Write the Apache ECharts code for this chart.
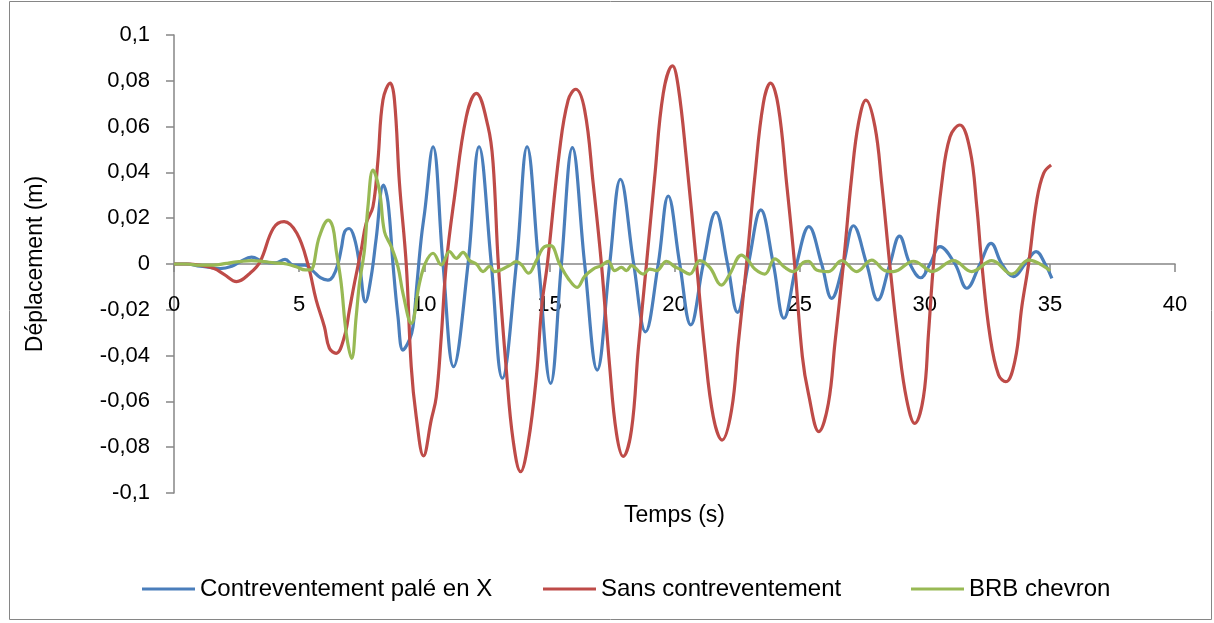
<!DOCTYPE html>
<html>
<head>
<meta charset="utf-8">
<script src="https://cdn.jsdelivr.net/npm/echarts@6/dist/echarts.min.js"></script>
<style>
html,body{margin:0;padding:0;background:#fff;}
#chart{width:1214px;height:623px;}
</style>
</head>
<body>
<div id="chart"></div>
<script>
// ---- DATA ----
const seriesNames = ['Contreventement palé en X', 'Sans contreventement', 'BRB chevron'];
const xTicks = [0, 5, 10, 15, 20, 25, 30, 35, 40];
const yTicks = [-0.1, -0.08, -0.06, -0.04, -0.02, 0, 0.02, 0.04, 0.06, 0.08, 0.1];

const blueT = [0, 0.5, 1.04, 1.45, 1.84, 2.31, 2.64, 3.1, 3.57, 4.04, 4.44, 4.77, 5.24, 5.55, 5.85, 6.15, 6.35, 6.55, 6.7, 6.82, 7.0, 7.21, 7.41, 7.65, 7.88, 8.08, 8.37, 8.55, 8.75, 8.95, 9.15, 9.41, 9.55, 9.71, 9.88, 10.02, 10.35, 10.75, 11.17, 11.75, 12.19, 12.68, 13.12, 13.68, 14.11, 14.57, 15.05, 15.48, 15.92, 16.41, 16.91, 17.41, 17.84, 18.37, 18.84, 19.35, 19.75, 20.21, 20.65, 21.15, 21.65, 22.12, 22.52, 22.95, 23.45, 23.95, 24.37, 24.88, 25.37, 25.88, 26.28, 26.75, 27.15, 27.68, 28.12, 28.61, 28.99, 29.41, 29.84, 30.21, 30.61, 31.21, 31.68, 32.21, 32.65, 33.08, 33.55, 34.01, 34.45, 34.81, 35.08];
const blueV = [0, 0, -0.001, -0.0015, -0.002, -0.001, 0.001, 0.003, 0.001, 0.0005, 0.002, -0.0005, -0.0005, -0.003, -0.006, -0.007, -0.0055, 0, 0.0076, 0.0141, 0.0155, 0.0112, 0, -0.0165, -0.0055, 0.0112, 0.0345, 0.027, 0, -0.023, -0.0376, -0.033, -0.0274, -0.0084, 0.0112, 0.023, 0.0512, 0, -0.0448, 0, 0.0512, 0, -0.0499, 0, 0.0512, 0, -0.0521, 0, 0.0508, 0, -0.0463, 0, 0.037, 0, -0.0296, 0, 0.0297, 0, -0.0266, 0, 0.0226, 0, -0.0211, 0, 0.0236, 0, -0.0237, 0, 0.0163, 0, -0.015, 0, 0.0167, 0, -0.0157, 0, 0.0122, 0, -0.006, 0, 0.0076, 0, -0.0106, 0, 0.009, 0, -0.0055, 0, 0.0054, 0, -0.0063];

const redT = [0, 0.6, 1.0, 1.6, 2.0, 2.5, 3.04, 3.44, 3.97, 4.4, 4.91, 5.36, 5.68, 6.01, 6.21, 6.48, 6.81, 7.01, 7.21, 7.48, 7.68, 7.95, 8.15, 8.35, 8.64, 8.81, 9.01, 9.28, 9.48, 9.68, 9.97, 10.28, 10.48, 10.68, 10.88, 11.21, 11.68, 12.08, 12.55, 12.75, 12.96, 13.28, 13.55, 13.85, 14.15, 14.48, 14.7, 14.92, 15.41, 15.75, 16.05, 16.41, 16.75, 17.08, 17.41, 17.68, 17.95, 18.28, 18.55, 18.88, 19.21, 19.55, 19.92, 20.15, 20.48, 20.88, 21.21, 21.55, 21.9, 22.28, 22.55, 22.88, 23.21, 23.55, 23.84, 24.15, 24.48, 24.8, 25.11, 25.35, 25.77, 26.15, 26.41, 26.75, 27.08, 27.35, 27.65, 28.01, 28.28, 28.6, 28.95, 29.28, 29.6, 29.95, 30.15, 30.35, 30.68, 31.01, 31.4, 31.81, 32.08, 32.28, 32.61, 32.95, 33.24, 33.61, 33.88, 34.15, 34.48, 34.75, 35.05];
const redV = [0, 0, -0.0005, -0.002, -0.0045, -0.0077, -0.004, 0.001, 0.0156, 0.0185, 0.0134, -0.0005, -0.0157, -0.0274, -0.0368, -0.039, -0.0317, -0.0201, -0.0084, 0.0061, 0.0178, 0.025, 0.0454, 0.0716, 0.079, 0.0716, 0.0352, 0, -0.0448, -0.0667, -0.0838, -0.0681, -0.058, -0.0317, 0, 0.0294, 0.0643, 0.0745, 0.06, 0.044, 0, -0.0463, -0.0769, -0.0907, -0.0783, -0.0492, -0.018, 0, 0.0498, 0.0716, 0.0763, 0.0672, 0.0352, 0, -0.0448, -0.0739, -0.084, -0.0725, -0.0376, 0, 0.0381, 0.0745, 0.0865, 0.0774, 0.0454, 0, -0.0376, -0.0667, -0.0769, -0.0638, -0.0346, 0, 0.0381, 0.0702, 0.079, 0.0687, 0.0352, 0, -0.0405, -0.0565, -0.0732, -0.0608, -0.0346, 0, 0.0381, 0.0614, 0.0716, 0.06, 0.0352, 0, -0.0346, -0.0594, -0.0696, -0.058, -0.0303, 0, 0.0352, 0.0556, 0.0607, 0.0498, 0.025, 0, -0.0317, -0.0485, -0.0514, -0.0419, -0.0186, 0, 0.028, 0.0396, 0.0432];

const greenT = [0, 0.5, 1.0, 1.6, 2.1, 2.6, 3.1, 3.6, 4.0, 4.5, 4.88, 5.24, 5.45, 5.81, 6.17, 6.35, 6.48, 6.68, 6.88, 7.1, 7.28, 7.41, 7.61, 7.75, 7.95, 8.21, 8.41, 8.68, 8.95, 9.15, 9.48, 9.81, 10.05, 10.35, 10.68, 11.01, 11.28, 11.55, 11.81, 12.08, 12.35, 12.61, 12.81, 13.08, 13.41, 13.68, 13.88, 14.17, 14.48, 14.81, 15.05, 15.41, 15.75, 16.11, 16.41, 16.75, 17.08, 17.35, 17.61, 17.88, 18.08, 18.28, 18.75, 19.01, 19.28, 19.68, 20.01, 20.21, 20.61, 21.01, 21.41, 21.88, 22.21, 22.68, 22.95, 23.21, 23.61, 24.01, 24.41, 24.75, 25.15, 25.35, 25.68, 26.15, 26.68, 27.28, 27.88, 28.41, 28.75, 29.55, 30.08, 30.28, 31.15, 31.88, 32.68, 33.48, 34.15, 35.01];
const greenV = [0, 0, -0.0005, -0.0005, 0.0003, 0.001, 0.0015, 0.001, 0.0005, 0, -0.0012, -0.0026, -0.0026, 0.012, 0.0192, 0.016, 0.006, -0.0084, -0.030, -0.0412, -0.023, -0.0085, 0.006, 0.025, 0.041, 0.032, 0.0141, 0.0076, -0.0012, -0.0128, -0.0259, -0.0084, 0.0005, 0.0047, -0.0004, 0.0054, 0.0025, 0.0051, 0.0015, 0, -0.0033, -0.001, -0.0033, -0.0025, -0.0006, 0.001, -0.0003, -0.004, 0.0015, 0.0076, 0.008, 0, -0.0063, -0.0102, -0.0054, -0.0022, -0.0007, 0.0012, -0.0029, -0.0015, -0.0029, -0.0007, -0.0044, -0.0022, -0.0029, 0.0012, -0.0012, -0.0022, -0.0044, 0.0015, -0.0015, -0.0092, -0.0044, 0.0039, 0.0015, -0.0022, -0.0044, 0.0022, -0.0015, -0.0033, 0.0007, 0.0012, -0.0026, -0.0033, 0.0015, -0.0033, 0.0017, -0.0029, -0.0033, 0.0012, -0.0022, -0.0033, 0.0015, -0.0033, 0.0015, -0.0044, 0.0017, -0.0029];

const colors = ['#4A7EBB', '#BE4B48', '#98B954'];
// ---------------

const zip = (t, v) => t.map((x, i) => [x, v[i]]);
const FONT = '"Liberation Sans", Arial, sans-serif';
const fmtY = v => { const r = Math.round(v * 100) / 100; return String(r).replace('.', ','); };

const chart = echarts.init(document.getElementById('chart'), null, {renderer: 'canvas'});
const axisGray = '#868686';

const legendBase = {
  top: 572, icon: 'rect', itemWidth: 53, itemHeight: 3, itemGap: 45,
  textStyle: {fontFamily: FONT, fontSize: 24, color: '#000'}
};

// grid: top 35, bottom at 493 (height 458); zero line is at the middle -> offset -229
chart.setOption({
  animation: false,
  backgroundColor: '#ffffff',
  textStyle: {fontFamily: FONT},
  color: colors,
  graphic: [{
    type: 'rect', shape: {x: 9.5, y: 1.5, width: 1202, height: 618},
    style: {fill: 'none', stroke: '#868686', lineWidth: 1}, silent: true, z: -1
  }],
  grid: {left: 174, right: 39, top: 35, bottom: 130, containLabel: false, outerBoundsMode: 'none'},
  legend: [
    Object.assign({}, legendBase, {data: [seriesNames[0]], left: 137}),
    Object.assign({}, legendBase, {data: [seriesNames[1]], left: 538}),
    Object.assign({}, legendBase, {data: [seriesNames[2]], left: 906})
  ],
  xAxis: {
    type: 'value', min: 0, max: 40, interval: 5,
    position: 'bottom', offset: -229,
    name: 'Temps (s)', nameLocation: 'middle', nameGap: 240,
    nameTextStyle: {fontFamily: FONT, fontSize: 23, color: '#000'},
    axisLine: {onZero: false, lineStyle: {color: axisGray, width: 1.5}},
    axisTick: {show: true, length: 8, inside: false, lineStyle: {color: axisGray, width: 1.5}},
    axisLabel: {margin: 30, fontSize: 22, color: '#000', fontFamily: FONT,
      formatter: v => xTicks.includes(v) ? String(v) : ''},
    splitLine: {show: false}
  },
  yAxis: {
    type: 'value', min: -0.1, max: 0.1, interval: 0.02,
    name: 'Déplacement (m)', nameLocation: 'middle', nameGap: 127, nameRotate: 90,
    nameTextStyle: {fontFamily: FONT, fontSize: 23, color: '#000'},
    axisLine: {show: true, onZero: false, lineStyle: {color: axisGray, width: 1.5}},
    axisTick: {show: true, length: 8, lineStyle: {color: axisGray, width: 1.5}},
    axisLabel: {margin: 24, fontSize: 22, color: '#000', fontFamily: FONT, formatter: fmtY},
    splitLine: {show: false}
  },
  series: [
    {name: seriesNames[0], type: 'line', data: zip(blueT, blueV), showSymbol: false, symbol: 'none', smooth: 0.4, lineStyle: {width: 3.2, color: colors[0]}},
    {name: seriesNames[1], type: 'line', data: zip(redT, redV), showSymbol: false, symbol: 'none', smooth: 0.4, lineStyle: {width: 3.2, color: colors[1]}},
    {name: seriesNames[2], type: 'line', data: zip(greenT, greenV), showSymbol: false, symbol: 'none', smooth: 0.4, lineStyle: {width: 3.2, color: colors[2]}}
  ]
});
</script>
</body>
</html>
